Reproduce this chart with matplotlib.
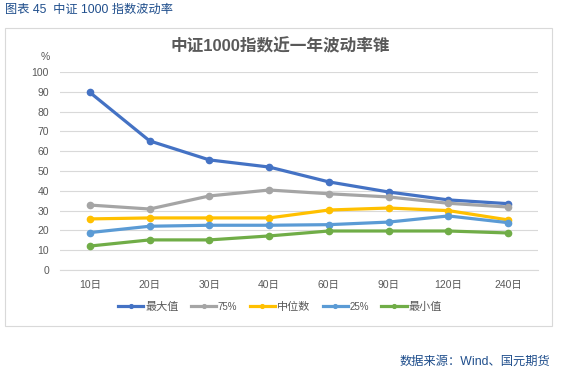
import numpy as np
import matplotlib
matplotlib.use('Agg')
import matplotlib.pyplot as plt
from matplotlib.patches import Rectangle

plt.rcParams['font.family'] = ['Liberation Sans', 'Noto Sans CJK SC', 'DejaVu Sans']

# data
periods = ['10日', '20日', '30日', '40日', '60日', '90日', '120日', '240日']
vol_max = [89.7, 65.2, 55.6, 52.0, 44.5, 39.4, 35.4, 33.5]
vol_p75 = [32.8, 30.8, 37.4, 40.4, 38.5, 36.9, 33.7, 31.8]
vol_med = [25.8, 26.3, 26.3, 26.3, 30.3, 31.3, 30.0, 25.3]
vol_p25 = [18.9, 22.1, 22.6, 22.6, 22.9, 24.2, 27.3, 23.9]
vol_min = [12.1, 15.2, 15.2, 17.2, 19.7, 19.7, 19.7, 18.7]

series = [('最大值', vol_max, '#4472C4'),
          ('75%', vol_p75, '#A5A5A5'),
          ('中位数', vol_med, '#FFC000'),
          ('25%', vol_p25, '#5B9BD5'),
          ('最小值', vol_min, '#70AD47')]

fs = 7.5
grey = '#595959'
blue = '#1F4E8C'

fig = plt.figure(figsize=(5.67, 3.85), dpi=100)

# chart frame
fig.patches.append(Rectangle((5/567, 1-326/385), 547/567, 298/385, transform=fig.transFigure,
                             fill=False, edgecolor='#d9d9d9', linewidth=0.8))

ax = fig.add_axes([60/567, 1-270/385, 478/567, 198/385])
x = np.arange(len(periods))
for name, vals, c in series:
    ax.plot(x, vals, color=c, linewidth=2.3, marker='o', markersize=4.5, label=name)

ax.set_xlim(-0.5, len(periods)-0.5)
ax.set_ylim(0, 100)
ax.set_yticks(np.arange(0, 101, 10))
ax.set_xticks(x)
ax.set_xticklabels(periods)
ax.grid(axis='y', color='#d9d9d9', linewidth=0.8)
ax.set_axisbelow(True)
for s in ['top', 'right', 'left']:
    ax.spines[s].set_visible(False)
ax.spines['bottom'].set_color('#d9d9d9')
ax.tick_params(axis='both', length=0, labelsize=fs, colors=grey, pad=8)
ax.tick_params(axis='x', pad=7)

fig.text(45/567, 1-57/385, '%', fontsize=fs, color=grey, ha='center', va='center')
fig.text(280/567, 1-46/385, '中证1000指数近一年波动率锥', fontsize=12, fontweight='bold',
         color=grey, ha='center', va='center')

leg = ax.legend(loc='center', bbox_to_anchor=(280/567, 1-307/385), bbox_transform=fig.transFigure,
                ncol=5, frameon=False, fontsize=8, handlelength=2.3, columnspacing=1.1,
                handletextpad=0.15, markerscale=0.6)
for t in leg.get_texts():
    t.set_color(grey)
    if '%' in t.get_text():
        t.set_fontsize(7)

fig.text(5/567, 1-10/385, '图表 45  中证 1000 指数波动率', fontsize=8.8, color=blue,
         ha='left', va='center')
fig.text(550/567, 1-362/385, '数据来源：Wind、国元期货', fontsize=8.8, color=blue,
         ha='right', va='center')

plt.savefig('out.png', dpi=100)
plt.close()
